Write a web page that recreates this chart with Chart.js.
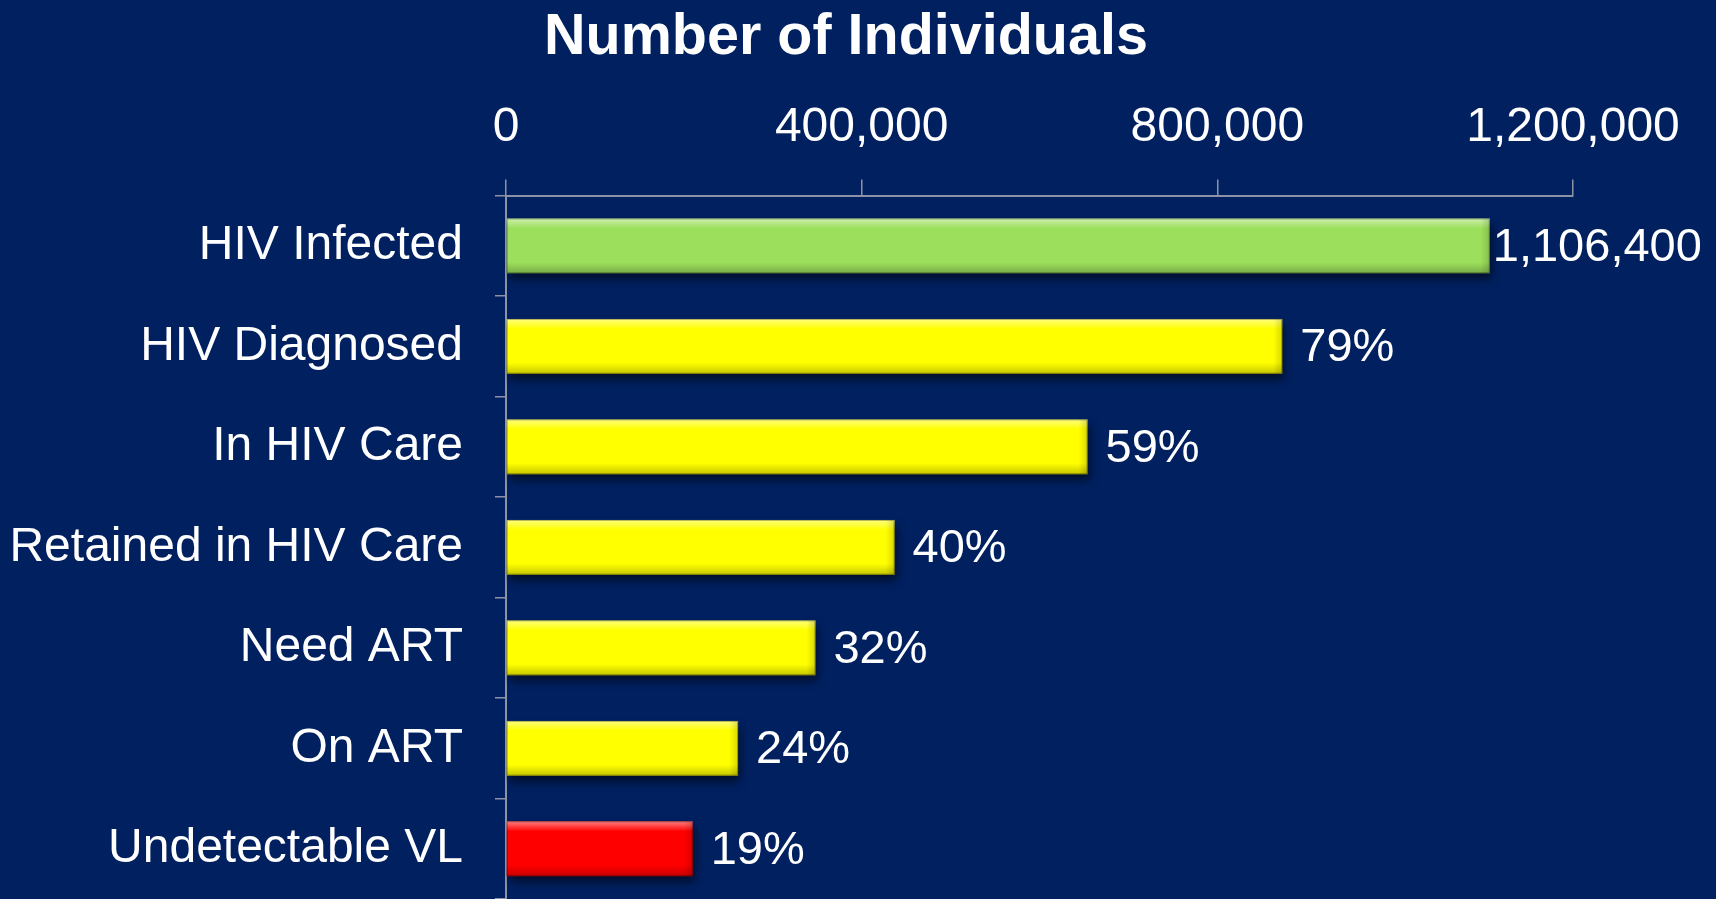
<!DOCTYPE html>
<html>
<head>
<meta charset="utf-8">
<script src="https://cdn.jsdelivr.net/npm/chart.js@4"></script>
<style>
html, body { margin: 0; padding: 0; background: #002060; overflow: hidden; }
</style>
</head>
<body>
<canvas id="grafico" width="1716" height="899"></canvas>
<script>
// dados do grafico
var categorias = ['HIV Infected', 'HIV Diagnosed', 'In HIV Care', 'Retained in HIV Care', 'Need ART', 'On ART', 'Undetectable VL'];
var valores = [1106400, 873000, 654000, 437000, 348000, 261000, 210000];
var rotulos = ['1,106,400', '79%', '59%', '40%', '32%', '24%', '19%'];
var ticksX = [0, 400000, 800000, 1200000];
var cores = ['#9CDF5C', '#FFFF00', '#FFFF00', '#FFFF00', '#FFFF00', '#FFFF00', '#FF0000'];

var fonte = 'Liberation Sans, Arial, sans-serif';
var corEixo = '#8E92A6';

// fundo azul + sombra + brilho nas barras + rotulos
var pluginBarras = {
    id: 'barras',
    beforeDraw: function(chart) {
        var ctx = chart.ctx;
        ctx.save();
        ctx.fillStyle = '#002060';
        ctx.fillRect(0, 0, chart.width, chart.height);
        ctx.restore();
    },
    afterLayout: function(chart) {
        // titulo centralizado um pouco a esquerda do meio, como no original
        chart.titleBlock.left = 0;
        chart.titleBlock.right = 1692;
        chart.titleBlock.width = 1692;
    },
    beforeDatasetsDraw: function(chart) {
        var ctx = chart.ctx;
        ctx.save();
        ctx.shadowColor = 'rgba(0,0,0,0.6)';
        ctx.shadowBlur = 9;
        ctx.shadowOffsetX = 2;
        ctx.shadowOffsetY = 6;
    },
    afterDatasetsDraw: function(chart) {
        var ctx = chart.ctx;
        ctx.restore();
        var meta = chart.getDatasetMeta(0);
        meta.data.forEach(function(bar, i) {
            var esq = bar.base, dir = bar.x;
            var topo = bar.y - bar.height / 2, alt = bar.height;
            var base = topo + alt;
            ctx.save();
            var g = ctx.createLinearGradient(0, topo, 0, topo + 10);
            g.addColorStop(0, 'rgba(255,255,255,0.5)');
            g.addColorStop(1, 'rgba(255,255,255,0)');
            ctx.fillStyle = g;
            ctx.fillRect(esq, topo, dir - esq, 10);
            g = ctx.createLinearGradient(0, base - 11, 0, base);
            g.addColorStop(0, 'rgba(0,0,0,0)');
            g.addColorStop(1, 'rgba(0,0,0,0.22)');
            ctx.fillStyle = g;
            ctx.fillRect(esq, base - 11, dir - esq, 11);
            g = ctx.createLinearGradient(dir - 9, 0, dir, 0);
            g.addColorStop(0, 'rgba(0,0,0,0)');
            g.addColorStop(1, 'rgba(0,0,0,0.15)');
            ctx.fillStyle = g;
            ctx.fillRect(dir - 9, topo, 9, alt);
            ctx.strokeStyle = 'rgba(0,0,0,0.3)';
            ctx.lineWidth = 1;
            ctx.strokeRect(esq + 0.5, topo + 0.5, dir - esq - 1, alt - 1);

            ctx.fillStyle = '#ffffff';
            ctx.font = '47px ' + fonte;
            ctx.textAlign = 'left';
            ctx.textBaseline = 'middle';
            var desloc = i == 0 ? 3 : 18;
            ctx.fillText(rotulos[i], dir + desloc, bar.y + 2);
            ctx.restore();
        });
    }
};

var ctx = document.getElementById('grafico');
var grafico = new Chart(ctx, {
    type: 'bar',
    data: {
        labels: categorias,
        datasets: [{
            data: valores,
            backgroundColor: cores,
            borderWidth: 0,
            barPercentage: 0.545,
            categoryPercentage: 1
        }]
    },
    options: {
        indexAxis: 'y',
        responsive: false,
        animation: false,
        devicePixelRatio: 1,
        layout: { padding: { left: 0, right: 143, top: 0, bottom: 0 } },
        plugins: {
            legend: { display: false },
            tooltip: { enabled: false },
            title: {
                display: true,
                text: 'Number of Individuals',
                color: '#ffffff',
                font: { family: fonte, size: 57.5, weight: 'bold' },
                padding: { top: 4, bottom: 3 }
            }
        },
        scales: {
            x: {
                position: 'top',
                min: 0,
                max: 1200000,
                afterBuildTicks: function(axis) {
                    axis.ticks = ticksX.map(function(v) { return { value: v }; });
                },
                grid: { drawOnChartArea: false, tickLength: 16, color: corEixo, lineWidth: 1.5 },
                border: { color: corEixo, width: 2 },
                ticks: {
                    color: '#ffffff',
                    font: { family: fonte, size: 48 },
                    padding: 23,
                    maxRotation: 0,
                    callback: function(v) { return Number(v).toLocaleString('en-US'); }
                }
            },
            y: {
                afterFit: function(axis) {
                    axis.width = 506;
                    axis.paddingTop = 0;
                    axis.paddingBottom = 0;
                },
                grid: { drawOnChartArea: false, tickLength: 11, color: corEixo, lineWidth: 1.5, offset: true },
                border: { color: corEixo, width: 2 },
                ticks: {
                    color: '#ffffff',
                    font: { family: fonte, size: 48 },
                    padding: 32
                }
            }
        }
    },
    plugins: [pluginBarras]
});
</script>
</body>
</html>
